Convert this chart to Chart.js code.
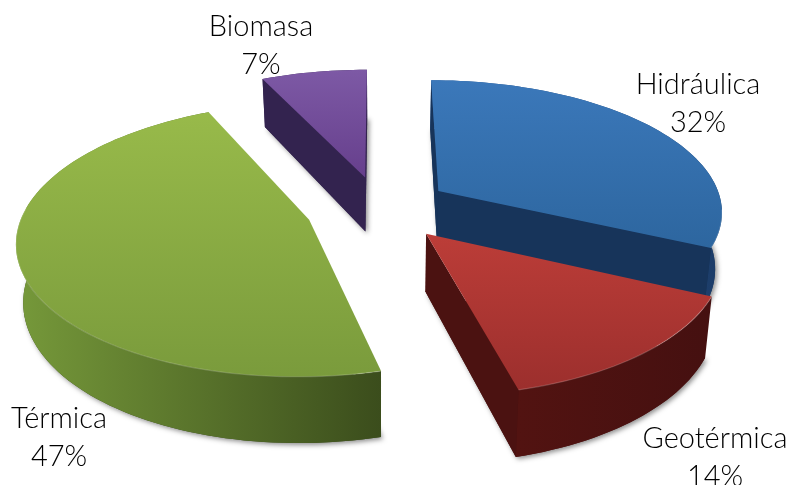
<!DOCTYPE html>
<html>
<head>
<meta charset="utf-8">
<title>Capacidad instalada</title>
<script src="https://cdn.jsdelivr.net/npm/chart.js@4"></script>
<style>
  html, body { margin: 0; padding: 0; background: #fff; overflow: hidden; }
  canvas { display: block; }
</style>
</head>
<body>
<canvas id="pieChart" width="793" height="485"></canvas>
<script>
const categories = ['Hidráulica', 'Geotérmica', 'Térmica', 'Biomasa'];
const shares = [32, 14, 47, 7];

// face colours per slice
const topColors = [['#3b78ba', '#2d669f'], ['#bc3d38', '#9c2f2d'], ['#98ba4a', '#7a9b3c'], ['#7d59a5', '#663f8c']];
const rimColors = [['#2b5c98', '#1c3c68'], ['#521311', '#451010'], ['#76993a', '#3b4d1c'], ['#3a2858', '#33234f']];
const wallColors = ['#17345a', '#4b1211', '#3b4d1c', '#33234f'];

// where the labels sit: centre x, first baseline
const labelSpots = [[698, 94], [715, 448], [59, 428], [261, 36]];

// camera for the tilted pie
const VANISH_X = 380, HORIZON = -712, GROUND = 920, DEPTH = 2000;
const PIE_SCALE = 1.328, THICKNESS = 56, BOTTOM_SHRINK = 0.02;

function project(u, v, z) {
  const s = DEPTH / (DEPTH - v);
  return { x: VANISH_X + u * s * (1 - z * BOTTOM_SHRINK), y: HORIZON + (GROUND + z * THICKNESS) * s };
}

function slicePoints(arc) {
  const off = arc.options.offset * PIE_SCALE;
  const mid = (arc.startAngle + arc.endAngle) / 2;
  const ax = Math.cos(mid) * off, ay = Math.sin(mid) * off;
  const r = arc.outerRadius * PIE_SCALE;
  const steps = Math.ceil((arc.endAngle - arc.startAngle) / 0.03);
  const rim = [];
  for (let i = 0; i <= steps; i++) {
    const a = arc.startAngle + (arc.endAngle - arc.startAngle) * i / steps;
    rim.push([ax + Math.cos(a) * r, ay + Math.sin(a) * r]);
  }
  return { apex: [ax, ay], rim };
}

function fillPath(ctx, pts, fill) {
  ctx.beginPath();
  pts.forEach((p, i) => (i ? ctx.lineTo(p.x, p.y) : ctx.moveTo(p.x, p.y)));
  ctx.closePath();
  ctx.fillStyle = fill;
  ctx.fill();
}

function drawWall(ctx, a, b, fill) {
  const q = [project(a[0], a[1], 0), project(b[0], b[1], 0), project(b[0], b[1], 1), project(a[0], a[1], 1)];
  const area = (q[1].x - q[0].x) * (q[2].y - q[0].y) - (q[1].y - q[0].y) * (q[2].x - q[0].x);
  if (area < 0) fillPath(ctx, q, fill);
}

function drawSlice(ctx, arc, i) {
  const { apex, rim } = slicePoints(arc);
  const topPts = [project(apex[0], apex[1], 0), ...rim.map(p => project(p[0], p[1], 0))];
  const lowPts = rim.map(p => project(p[0], p[1], 1));
  const highRim = topPts.slice(1);
  const xs = highRim.map(p => p.x), ys = topPts.map(p => p.y);

  // soft shadow under the block
  ctx.save();
  ctx.shadowColor = 'rgba(0,0,0,0.45)';
  ctx.shadowBlur = 5;
  ctx.shadowOffsetX = 2;
  ctx.shadowOffsetY = 2;
  fillPath(ctx, [project(apex[0], apex[1], 1), ...lowPts], wallColors[i]);
  ctx.restore();

  const rimGrad = ctx.createLinearGradient(Math.min(...xs), 0, Math.max(...xs), 0);
  rimGrad.addColorStop(0, rimColors[i][0]);
  rimGrad.addColorStop(1, rimColors[i][1]);
  fillPath(ctx, [...highRim, ...lowPts.slice().reverse()], rimGrad);

  drawWall(ctx, apex, rim[0], wallColors[i]);
  drawWall(ctx, rim[rim.length - 1], apex, wallColors[i]);

  const topGrad = ctx.createLinearGradient(0, Math.min(...ys), 0, Math.max(...ys));
  topGrad.addColorStop(0, topColors[i][0]);
  topGrad.addColorStop(1, topColors[i][1]);
  fillPath(ctx, topPts, topGrad);

  // thin light bevel along the near rim
  const near = highRim.filter((p, k) => rim[k][1] > 0);
  ctx.beginPath();
  near.forEach((p, k) => (k ? ctx.lineTo(p.x, p.y) : ctx.moveTo(p.x, p.y)));
  ctx.strokeStyle = 'rgba(255,255,255,0.18)';
  ctx.lineWidth = 1.2;
  ctx.stroke();
}

const tiltedPie = {
  id: 'tiltedPie',
  beforeDatasetDraw(chart, args) {
    const ctx = chart.ctx;
    const arcs = args.meta.data;
    // far slices first
    const order = arcs.map((arc, i) => i).sort((a, b) => {
      return Math.sin((arcs[a].startAngle + arcs[a].endAngle) / 2) - Math.sin((arcs[b].startAngle + arcs[b].endAngle) / 2);
    });
    order.forEach(i => drawSlice(ctx, arcs[i], i));
    return false;
  },
  afterDraw(chart) {
    const ctx = chart.ctx;
    ctx.save();
    ctx.fillStyle = '#000';
    ctx.font = '300 29px Lato';
    ctx.textAlign = 'center';
    categories.forEach((name, i) => {
      ctx.fillText(name, labelSpots[i][0], labelSpots[i][1]);
      ctx.fillText(shares[i] + '%', labelSpots[i][0], labelSpots[i][1] + 38);
    });
    ctx.restore();
  }
};

new Chart(document.getElementById('pieChart'), {
  type: 'pie',
  data: {
    labels: categories,
    datasets: [{ data: shares, offset: [53, 53, 56, 53], borderWidth: 0 }]
  },
  options: {
    responsive: false,
    animation: false,
    layout: { padding: 0 },
    plugins: { legend: { display: false }, tooltip: { enabled: false } }
  },
  plugins: [tiltedPie]
});
</script>
</body>
</html>
